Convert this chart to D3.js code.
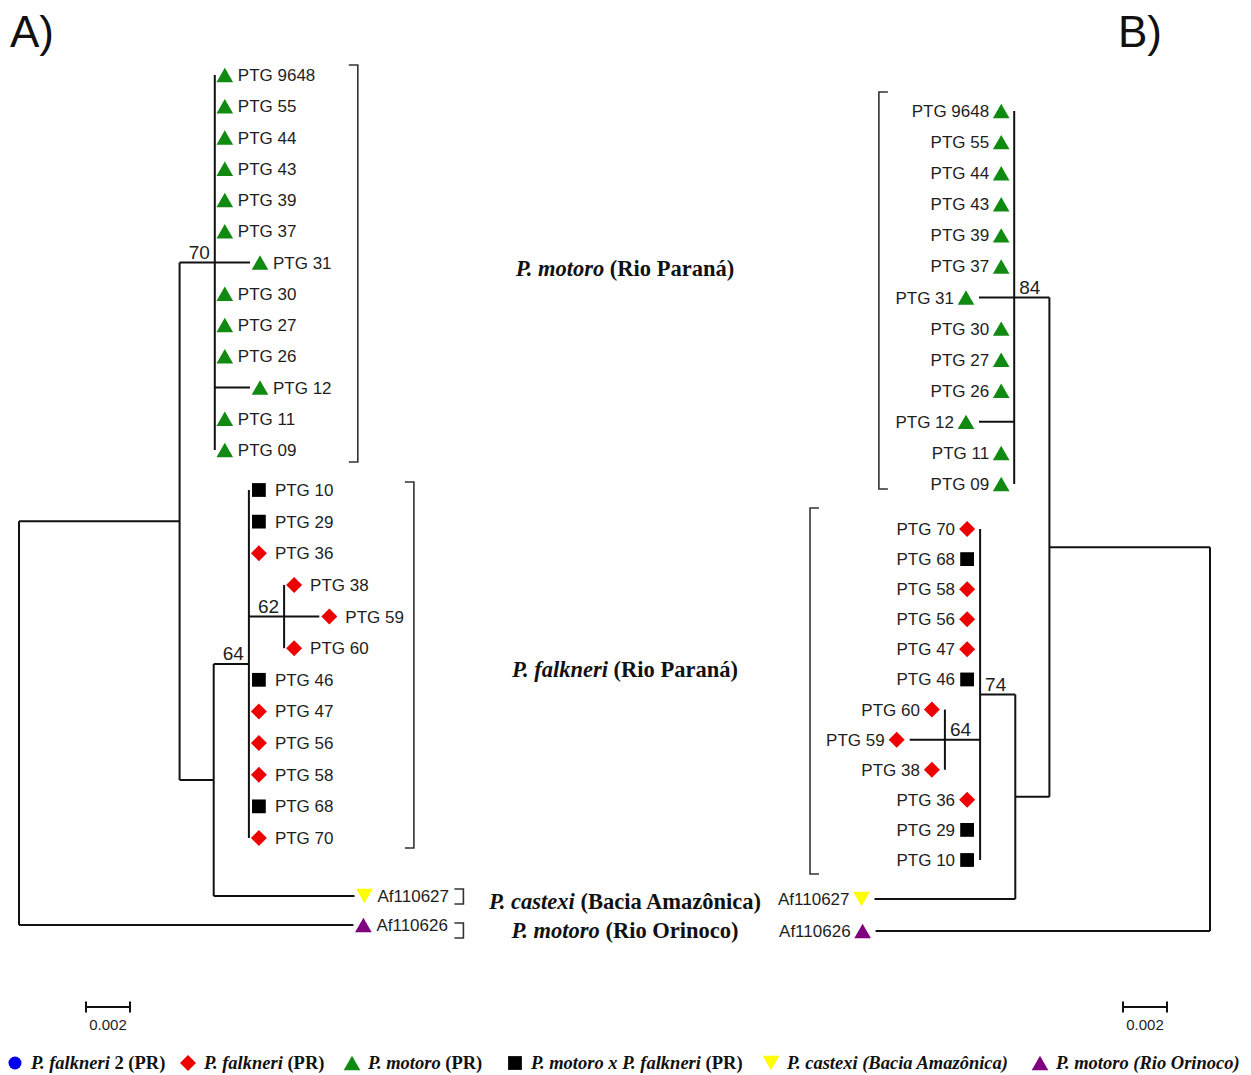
<!DOCTYPE html>
<html>
<head>
<meta charset="utf-8">
<script src="https://cdn.jsdelivr.net/npm/d3@7"></script>
<style>
  body { margin: 0; background: #fff; }
  svg { display: block; }
</style>
</head>
<body>
<svg id="chart" width="1251" height="1075"></svg>
<script>
// ---------------- data ----------------
// Neighbour-joining tree: [node id, parent id, branch length (substitutions/site)]
const treeNodes = [
  ["root", null, 0],
  ["ingroup", "root", 0.0073],
  ["motoroClade", "ingroup", 0.0016],
  ["PTG 9648", "motoroClade", 0],
  ["PTG 55", "motoroClade", 0],
  ["PTG 44", "motoroClade", 0],
  ["PTG 43", "motoroClade", 0],
  ["PTG 39", "motoroClade", 0],
  ["PTG 37", "motoroClade", 0],
  ["PTG 31", "motoroClade", 0.0016],
  ["PTG 30", "motoroClade", 0],
  ["PTG 27", "motoroClade", 0],
  ["PTG 26", "motoroClade", 0],
  ["PTG 12", "motoroClade", 0.0016],
  ["PTG 11", "motoroClade", 0],
  ["PTG 09", "motoroClade", 0],
  ["falkCastexi", "ingroup", 0.00155],
  ["falkneriClade", "falkCastexi", 0.0016],
  ["PTG 10", "falkneriClade", 0],
  ["PTG 29", "falkneriClade", 0],
  ["PTG 36", "falkneriClade", 0],
  ["subClade", "falkneriClade", 0.0016],
  ["PTG 38", "subClade", 0],
  ["PTG 59", "subClade", 0.0016],
  ["PTG 60", "subClade", 0],
  ["PTG 46", "falkneriClade", 0],
  ["PTG 47", "falkneriClade", 0],
  ["PTG 56", "falkneriClade", 0],
  ["PTG 58", "falkneriClade", 0],
  ["PTG 68", "falkneriClade", 0],
  ["PTG 70", "falkneriClade", 0],
  ["Af110627", "falkCastexi", 0.0064],
  ["Af110626", "root", 0.0152]
];

// Species assignment of terminals (everything else in the tree is P. motoro (PR))
const hybridTips = ["PTG 10", "PTG 29", "PTG 46", "PTG 68"];
const falkneriTips = ["PTG 36", "PTG 38", "PTG 59", "PTG 60", "PTG 47", "PTG 56", "PTG 58", "PTG 70"];
const castexiTips = ["Af110627"];
const orinocoTips = ["Af110626"];

// Bootstrap support for each tree
const bootstrapA = [["motoroClade", 70], ["falkneriClade", 64], ["subClade", 62]];
const bootstrapB = [["motoroClade", 84], ["falkneriClade", 74], ["subClade", 64]];

// Legend entries: [text, italic]
const speciesKeys = ["falkneri2", "falkneri", "motoro", "hybrid", "castexi", "orinoco"];
const legendLabels = [
  [["P. falkneri", true], [" 2 (PR)", false]],
  [["P. falkneri", true], [" (PR)", false]],
  [["P. motoro", true], [" (PR)", false]],
  [["P. motoro x P. falkneri", true], [" (PR)", false]],
  [["P. castexi (Bacia Amazônica)", true]],
  [["P. motoro (Rio Orinoco)", true]]
];

// Clade annotations shown between the two trees
const cladeLabelNodes = ["motoroClade", "falkneriClade", "Af110627", "Af110626"];
const cladeLabels = [
  [["P. motoro", true], [" (Rio Paraná)", false]],
  [["P. falkneri", true], [" (Rio Paraná)", false]],
  [["P. castexi", true], [" (Bacia Amazônica)", false]],
  [["P. motoro", true], [" (Rio Orinoco)", false]]
];

const scaleBarValue = 0.002;
const scaleBarLabel = "0.002";

// ---------------- styles ----------------
const speciesColor = {
  falkneri2: "#0000ee", falkneri: "#ee0000", motoro: "#118a11",
  hybrid: "#000000", castexi: "#ffff00", orinoco: "#7f007f"
};
const speciesShape = {
  falkneri2: "circle", falkneri: "diamond", motoro: "triangle",
  hybrid: "square", castexi: "triangleDown", orinoco: "triangle"
};
const SANS = "'Liberation Sans', Arial, sans-serif";
const SERIF = "'Liberation Serif', 'Times New Roman', serif";

function speciesOf(id) {
  if (hybridTips.includes(id)) return "hybrid";
  if (falkneriTips.includes(id)) return "falkneri";
  if (castexiTips.includes(id)) return "castexi";
  if (orinocoTips.includes(id)) return "orinoco";
  return "motoro";
}

const triSize = 120, squareSize = 190, diamondSize = 128, circleSize = 133;
function markerPath(shape, scale = 1) {
  const s = d3.symbol();
  if (shape === "triangle" || shape === "triangleDown") return s.type(d3.symbolTriangle).size(triSize * scale)();
  if (shape === "square") return s.type(d3.symbolSquare).size(squareSize * scale)();
  if (shape === "diamond") return s.type(d3.symbolSquare).size(diamondSize * scale)();
  return s.type(d3.symbolCircle).size(circleSize * scale)();
}
function markerTransform(shape, x, y, scale = 1) {
  // centre the symbol's bounding box on (x, y)
  const t = Math.sqrt(triSize * scale / (3 * Math.sqrt(3)));
  if (shape === "triangle") return `translate(${x},${y + t / 2})`;
  if (shape === "triangleDown") return `translate(${x},${y - t / 2}) rotate(180)`;
  if (shape === "diamond") return `translate(${x},${y}) rotate(45)`;
  return `translate(${x},${y})`;
}
function drawMarker(g, species, x, y, scale = 1) {
  const shape = speciesShape[species];
  g.append("path")
    .attr("d", markerPath(shape, scale))
    .attr("transform", markerTransform(shape, x, y, scale))
    .attr("fill", speciesColor[species]);
}
function richText(g, parts, attrs) {
  const t = g.append("text");
  Object.entries(attrs).forEach(([k, v]) => t.attr(k, v));
  parts.forEach(([txt, ital]) => {
    t.append("tspan").text(txt).attr("font-style", ital ? "italic" : "normal");
  });
  return t;
}

// ---------------- layout ----------------
const svg = d3.select("#chart");
const idOf = n => n.data[0];

const panels = [
  {
    title: "A)", titleX: 10, origin: 19, dir: 1, flip: [],
    bands: { motoroClade: [75, 450], falkneriClade: [490, 838], Af110627: [896, 896], Af110626: [925, 925] },
    bootstrap: bootstrapA,
    brackets: [
      { node: "motoroClade", at: 0.0154, pad: [10, 12] },
      { node: "falkneriClade", at: 0.01795, pad: [8, 10] },
      { node: "Af110627", at: 0.0202, pad: [7, 8] },
      { node: "Af110626", at: 0.0202, pad: [2, 13] }
    ],
    bar: [86, 1007]
  },
  {
    title: "B)", titleX: 1118, origin: 1210, dir: -1, flip: ["falkneriClade", "subClade"],
    bands: { motoroClade: [111, 484], falkneriClade: [529, 860], Af110627: [899, 899], Af110626: [931, 931] },
    bootstrap: bootstrapB,
    brackets: [
      { node: "motoroClade", at: 0.01505, pad: [19, 5] },
      { node: "falkneriClade", at: 0.01818, pad: [21, 14] }
    ],
    bar: [1123, 1007]
  }
];

const cladeCentresA = {};

panels.forEach((p, pi) => {
  const g = svg.append("g");
  // each tree gets its own hierarchy so the child order can differ
  const tree = d3.stratify().id(d => d[0]).parentId(d => d[1])(treeNodes);
  tree.each(n => { if (n.children && p.flip.includes(idOf(n))) n.children.reverse(); });
  tree.eachBefore(n => { n.dist = n.parent ? n.parent.dist + n.data[2] : 0; });

  const x = d3.scaleLinear().domain([0, scaleBarValue]).range([p.origin, p.origin + p.dir * 44]);
  const byId = new Map(tree.descendants().map(n => [idOf(n), n]));

  // vertical placement of terminals inside each clade band
  Object.entries(p.bands).forEach(([id, range]) => {
    const leaves = byId.get(id).leaves();
    const y = d3.scalePoint().domain(leaves.map(idOf)).range(range);
    leaves.forEach(l => { l.y = y(idOf(l)); });
  });
  tree.eachAfter(n => {
    if (n.children) n.y = (n.children[0].y + n.children[n.children.length - 1].y) / 2;
  });
  if (pi === 0) cladeLabelNodes.forEach(id => { cladeCentresA[id] = byId.get(id).y; });

  // branches
  const lines = g.append("g").attr("stroke", "#111").attr("stroke-width", 2).attr("fill", "none");
  tree.descendants().forEach(n => {
    if (n.parent && n.data[2] > 0) {
      lines.append("line")
        .attr("x1", x(n.parent.dist)).attr("x2", x(n.dist))
        .attr("y1", n.y).attr("y2", n.y);
    }
    if (n.children) {
      lines.append("line")
        .attr("x1", x(n.dist)).attr("x2", x(n.dist))
        .attr("y1", n.children[0].y).attr("y2", n.children[n.children.length - 1].y);
    }
  });

  // terminals
  tree.leaves().forEach(l => {
    const id = idOf(l);
    const sp = speciesOf(id);
    const shape = speciesShape[sp];
    const mx = x(l.dist) + p.dir * (p.dir > 0 ? 10 : 13);
    drawMarker(g, sp, mx, l.y);
    const tx = p.dir > 0 ? mx + (shape.startsWith("triangle") ? 13 : 16) : mx - 12;
    g.append("text")
      .attr("x", tx).attr("y", l.y + 6)
      .attr("text-anchor", p.dir > 0 ? "start" : "end")
      .attr("font-family", SANS).attr("font-size", 17).attr("fill", "#1e1e1e")
      .text(id);
  });

  // bootstrap values on clade stems
  p.bootstrap.forEach(([id, v]) => {
    const n = byId.get(id);
    g.append("text")
      .attr("x", x(n.dist) - p.dir * 5).attr("y", n.y - 4)
      .attr("text-anchor", p.dir > 0 ? "end" : "start")
      .attr("font-family", SANS).attr("font-size", 19).attr("fill", "#1e1e1e")
      .text(v);
  });

  // clade brackets
  p.brackets.forEach(b => {
    const leaves = byId.get(b.node).leaves();
    const y0 = d3.min(leaves, l => l.y) - b.pad[0];
    const y1 = d3.max(leaves, l => l.y) + b.pad[1];
    const bx = x(b.at);
    const tick = -p.dir * 9;
    g.append("path")
      .attr("d", `M${bx + tick},${y0}H${bx}V${y1}H${bx + tick}`)
      .attr("fill", "none").attr("stroke", "#333").attr("stroke-width", 1.6);
  });

  // scale bar
  const [bx, by] = p.bar;
  const bw = Math.abs(x(scaleBarValue) - x(0));
  g.append("path")
    .attr("d", `M${bx},${by}H${bx + bw}M${bx},${by - 5.5}V${by + 5.5}M${bx + bw},${by - 5.5}V${by + 5.5}`)
    .attr("fill", "none").attr("stroke", "#111").attr("stroke-width", 2);
  g.append("text")
    .attr("x", bx + bw / 2).attr("y", by + 23)
    .attr("text-anchor", "middle")
    .attr("font-family", SANS).attr("font-size", 15).attr("fill", "#1e1e1e")
    .text(scaleBarLabel);

  // panel title
  g.append("text")
    .attr("x", p.titleX).attr("y", 47)
    .attr("font-family", SANS).attr("font-size", 44).attr("fill", "#111")
    .text(p.title);
});

// clade annotations
cladeLabelNodes.forEach((id, i) => {
  richText(svg, cladeLabels[i], {
    x: 625, y: cladeCentresA[id] + 13,
    "text-anchor": "middle",
    "font-family": SERIF, "font-size": 22.5, "font-weight": "bold", fill: "#111"
  });
});

// legend
const legendX = [15, 188, 352, 515, 771, 1040];
const legendY = 1063;
speciesKeys.forEach((k, i) => {
  drawMarker(svg, k, legendX[i], legendY, 1);
  richText(svg, legendLabels[i], {
    x: legendX[i] + 16, y: legendY + 6,
    "font-family": SERIF, "font-size": 18.5, "font-weight": "bold", fill: "#111"
  });
});
</script>
</body>
</html>
